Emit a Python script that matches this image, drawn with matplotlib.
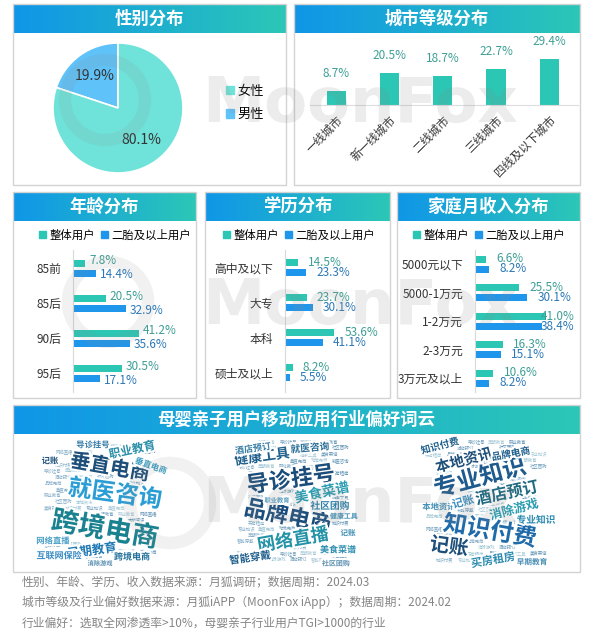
import numpy as np
import matplotlib.pyplot as plt
from matplotlib.colors import LinearSegmentedColormap
from matplotlib.patches import Rectangle, Patch, Circle
import matplotlib.patheffects as pe

plt.rcParams['font.family'] = ['Noto Sans CJK SC', 'DejaVu Sans']

W, H = 600, 630

# ---- 数据 ----
gender_labels = ['女性', '男性']
gender_values = [80.1, 19.9]

city_labels = ['一线城市', '新一线城市', '二线城市', '三线城市', '四线及以下城市']
city_values = [8.7, 20.5, 18.7, 22.7, 29.4]

series_names = ['整体用户', '二胎及以上用户']

age_labels = ['85前', '85后', '90后', '95后']
age_all = [7.8, 20.5, 41.2, 30.5]
age_second = [14.4, 32.9, 35.6, 17.1]

edu_labels = ['高中及以下', '大专', '本科', '硕士及以上']
edu_all = [14.5, 23.7, 53.6, 8.2]
edu_second = [23.3, 30.1, 41.1, 5.5]

income_labels = ['5000元以下', '5000-1万元', '1-2万元', '2-3万元', '3万元及以上']
income_all = [6.6, 25.5, 41.0, 16.3, 10.6]
income_second = [8.2, 30.1, 38.4, 15.1, 8.2]

cloud_left_words = ['垂直电商', '就医咨询', '跨境电商', '职业教育', '早期教育', '导诊挂号',
                    '垂直电商', '记账', '网络直播', '互联网保险', '跨境电商', '消除游戏']
cloud_mid_words = ['导诊挂号', '健康工具', '品牌电商', '网络直播', '美食菜谱', '社区团购',
                   '智能穿戴', '酒店预订', '就医咨询', '美食菜谱', '健康工具', '记账',
                   '社区团购', '职业教育']
cloud_right_words = ['专业知识', '本地资讯', '酒店预订', '消除游戏', '知识付费', '记账',
                     '买房租房', '早期教育', '专业知识', '品牌电商', '知识付费', '本地资讯', '记账']
filler_words = ['跨境电商', '就医咨询', '导诊挂号', '早期教育', '职业教育', '网络直播',
                '消除游戏', '酒店预订', '智能穿戴', '社区团购', '本地资讯', '买房租房',
                '品牌电商', '健康工具', '美食菜谱', '知识付费', '专业知识', '垂直电商']

notes = ['性别、年龄、学历、收入数据来源：月狐调研；数据周期：2024.03',
         '城市等级及行业偏好数据来源：月狐iAPP（MoonFox iApp）；数据周期：2024.02',
         '行业偏好：选取全网渗透率>10%，母婴亲子行业用户TGI>1000的行业']

# ---- 样式 ----
TEAL = '#2bc6b4'
BLUE = '#1e96ec'
TEAL_TXT = '#3e9f96'
BLUE_TXT = '#2b78b8'
HDR = LinearSegmentedColormap.from_list('hdr', ['#0f96e8', '#2cc7b7'])
grad = np.linspace(0, 1, 256).reshape(1, -1)

fig = plt.figure(figsize=(6, 6.3), dpi=100)


def rect(x, y, w, h):
    return [x / W, 1 - (y + h) / H, w / W, h / H]


def panel(x, y, w, h, title, fs=12.5):
    fig.patches.append(Rectangle((x / W, 1 - (y + h) / H), w / W, h / H,
                                 transform=fig.transFigure, fill=False,
                                 ec='#d3d3d3', lw=1))
    hax = fig.add_axes(rect(x, y, w, 29))
    hax.imshow(grad, aspect='auto', cmap=HDR, extent=(0, 1, 0, 1))
    hax.axis('off')
    hax.text(0.5, 0.5, title, color='white', fontsize=fs, fontweight='bold',
             ha='center', va='center', transform=hax.transAxes)


def legend2(x, y):
    hs = [Patch(color=TEAL), Patch(color=BLUE)]
    fig.legend(hs, series_names, loc='center left', bbox_to_anchor=(x / W, 1 - y / H),
               ncol=2, frameon=False, fontsize=8.2, handlelength=0.65, handleheight=0.65,
               handletextpad=0.25, columnspacing=0.55, borderpad=0, borderaxespad=0)


def hbar_panel(x_axis, right, cats, v_all, v_sec, first, step, px_pct, gap, cap, dy):
    top, bottom = 250, 392
    ax = fig.add_axes(rect(x_axis, top, right - x_axis, bottom - top))
    n = len(cats)
    idx = np.arange(n)
    ax.set_ylim(n - 1 + (bottom - (first + step * (n - 1))) / step, -(first - top) / step)
    ax.set_xlim(0, (right - x_axis) / px_pct)
    off, bh = 5 / step, 7 / step
    ax.barh(idx - off, v_all, height=bh, color=TEAL)
    ax.barh(idx + off, v_sec, height=bh, color=BLUE)
    for i in range(n):
        xa = min(v_all[i] + gap / px_pct, cap / px_pct)
        xb = min(v_sec[i] + gap / px_pct, cap / px_pct)
        ax.text(xa, i - off - dy / step, f'{v_all[i]}%', color=TEAL_TXT,
                fontsize=8.5, va='center', ha='left')
        ax.text(xb, i + off + dy / step, f'{v_sec[i]}%', color=BLUE_TXT,
                fontsize=8.5, va='center', ha='left')
    ax.set_yticks(idx)
    ax.set_yticklabels(cats, fontsize=8.5, color='#333333')
    ax.tick_params(axis='y', length=0, pad=8.5)
    ax.set_xticks([])
    for s in ['top', 'right', 'bottom']:
        ax.spines[s].set_visible(False)
    ax.spines['left'].set_color('#d9d9d9')
    ax.patch.set_alpha(0)


# ---- 性别分布 ----
panel(13, 4, 273, 181, '性别分布')
pax = fig.add_axes(rect(53, 43, 130, 130))
pax.pie(gender_values[::-1], colors=['#5fc2f8', '#6fe3d9'], startangle=90,
        counterclock=True, autopct='%.1f%%', pctdistance=0.6,
        wedgeprops=dict(edgecolor='white', linewidth=1.2),
        textprops=dict(fontsize=10, color='#333333'))
pax.set_xlim(-1, 1)
pax.set_ylim(-1, 1)
pax.set_aspect('equal')
fig.legend([Patch(color='#6fe3d9'), Patch(color='#5fc2f8')], gender_labels,
           loc='center left', bbox_to_anchor=(226 / W, 1 - 103 / H), frameon=False,
           fontsize=9.5, handlelength=0.6, handleheight=0.6, handletextpad=0.3,
           labelspacing=0.8, borderpad=0, borderaxespad=0)

# ---- 城市等级分布 ----
panel(294, 4, 286, 181, '城市等级分布')
cax = fig.add_axes(rect(310, 40, 268, 65))
bars = cax.bar(range(len(city_values)), city_values, width=0.36, color=TEAL)
cax.bar_label(bars, labels=[f'{v}%' for v in city_values], padding=8,
              color=TEAL_TXT, fontsize=8.5)
cax.set_xlim(-0.49, 4.54)
cax.set_ylim(0, 41.5)
cax.set_yticks([])
cax.set_xticks(range(len(city_labels)))
cax.set_xticklabels(city_labels, rotation=45, ha='right', rotation_mode='anchor',
                    fontsize=8.3, color='#333333')
cax.tick_params(axis='x', length=0, pad=6)
for s in ['top', 'right', 'left']:
    cax.spines[s].set_visible(False)
cax.spines['bottom'].set_color('#dddddd')
cax.patch.set_alpha(0)

# ---- 年龄 / 学历 / 收入 ----
panel(13, 192, 183, 206, '年龄分布')
legend2(39, 235)
hbar_panel(73, 190, age_labels, age_all, age_second, 268, 35, 1.6, 4, 150, 2)

panel(205, 192, 185, 206, '学历分布')
legend2(223, 235)
hbar_panel(285, 385, edu_labels, edu_all, edu_second, 267.5, 35, 0.92, 10, 80, 0)

panel(397, 192, 183, 206, '家庭月收入分布')
legend2(413, 235)
hbar_panel(475, 575, income_labels, income_all, income_second, 264, 28.5, 1.74, 10, 66, 0)

# ---- 词云 ----
panel(13, 405, 567, 167, '母婴亲子用户移动应用行业偏好词云', fs=12.5)
wc = fig.add_axes([0, 0, 1, 1], zorder=3)
wc.set_xlim(0, W)
wc.set_ylim(H, 0)
wc.axis('off')

left_layout = [(110, 467, 14.5, -10, '#1d4f7a'), (115, 494, 17, -8, '#2a9ed4'),
               (105, 530, 19.5, -10, '#1a8190'), (132, 450, 8.5, 12, '#2a8fa8'),
               (92, 551, 9, 8, '#1e78b4'), (93, 445, 6, 0, '#3a7ea6'),
               (151, 466, 6, -20, '#3f9fc0'), (50, 461, 6, 0, '#1d4f7a'),
               (53, 541, 6, 0, '#4aa0c8'), (59, 556, 6.5, 0, '#3a8cc4'),
               (132, 557, 6.5, 0, '#1f6f9a'), (100, 563, 4.5, 0, '#5a8fb0')]
mid_layout = [(291, 480, 16, 8, '#1b4d7a'), (262, 457, 10, 8, '#1f5f8c'),
              (288, 517, 16, -12, '#1a4d7c'), (293, 540, 13, 10, '#2493a8'),
              (322, 493, 10, 12, '#2a9db2'), (330, 506, 7, 0, '#2b7fa8'),
              (250, 558, 7.5, 8, '#1f5f8c'), (253, 449, 6.5, 8, '#3a7ea6'),
              (310, 448, 7, 5, '#2a6e98'), (338, 550, 6.5, 0, '#2e8fb0'),
              (344, 516, 5, 0, '#3f8fb5'), (348, 533, 5.5, 0, '#3f8fb5'),
              (336, 563, 5, 0, '#5a8fb0'), (277, 500, 4.5, 0, '#5a9fc0')]
right_layout = [(480, 478, 17, 15, '#1e5a8c'), (464, 460, 10.5, 15, '#1d4f7a'),
                (507, 493, 11.5, 12, '#1f6a80'), (514, 510, 9, 15, '#2a9db2'),
                (490, 531, 17, -10, '#1f6aa8'), (449, 547, 14, -8, '#1d4f7a'),
                (493, 560, 8, 10, '#2a8ab0'), (532, 562, 5.5, 0, '#4a8fb5'),
                (536, 520, 7, 0, '#2a8ab0'), (511, 454, 7, 10, '#1f5f8c'),
                (440, 446, 7, 15, '#1f5f8c'), (439, 507, 6, 0, '#3f8fb5'),
                (463, 502, 8, 15, '#3a8ec0')]

filler_cols = ['#86aec8', '#9cc6d4', '#6f9fbd', '#a9c9d8', '#5f93b5']
PX = 100 / 72


def covered(xx, yy, sized):
    for (x, y, fs, rot, _), n in sized:
        t = np.radians(rot)
        dx, dy = xx - x, yy - y
        u = dx * np.cos(t) - dy * np.sin(t)
        v = dx * np.sin(t) + dy * np.cos(t)
        if abs(u) < n * fs * PX / 2 + 3 and abs(v) < fs * PX / 2 - 1:
            return True
    return False


def cloud(words, layout, x0, y0, x1, y1):
    r = 22
    k = 0
    yy = y0 + 4
    row = 0
    sized = [(lay, len(w)) for w, lay in zip(words, layout)]
    while yy <= y1 - 3:
        xx = x0 + 11 + (row % 2) * 11
        while xx <= x1 - 11:
            cx = min(max(xx, x0 + r), x1 - r)
            cy = min(max(yy, y0 + r), y1 - r)
            if (xx - cx) ** 2 + (yy - cy) ** 2 <= (r - 4) ** 2 and not covered(xx, yy, sized):
                wc.text(xx, yy, filler_words[k % len(filler_words)], fontsize=3.2,
                        color=filler_cols[k % len(filler_cols)], ha='center', va='center')
            k += 1
            xx += 21
        yy += 6.2
        row += 1
    for w, (x, y, fs, rot, col) in zip(words, layout):
        wc.text(x, y, w, fontsize=fs, rotation=rot, color=col, fontweight='bold',
                ha='center', va='center', rotation_mode='anchor',
                path_effects=[pe.withStroke(linewidth=3, foreground='white')])


cloud(cloud_left_words, left_layout, 42, 442, 168, 562)
cloud(cloud_mid_words, mid_layout, 235, 438, 358, 568)
cloud(cloud_right_words, right_layout, 423, 438, 552, 567)

# ---- 水印 ----
wm = fig.add_axes([0, 0, 1, 1], zorder=10)
wm.set_xlim(0, W)
wm.set_ylim(H, 0)
wm.axis('off')
for (tx, ty), (lx, ly) in zip([(360, 105), (360, 307), (360, 505)],
                              [(105, 100), (108, 302), (170, 503)]):
    wm.text(tx, ty, 'MoonFox', fontsize=45, fontweight='bold', color='#8c8c8c',
            alpha=0.16, ha='center', va='center', family='DejaVu Sans')
    wm.add_patch(Circle((lx, ly), 40, fill=False, lw=9, ec='#8c8c8c', alpha=0.12))

# ---- 注释 ----
for i, t in enumerate(notes):
    fig.text(22 / W, 1 - (582 + 20.5 * i) / H, t, fontsize=8.5, color='#858585',
             va='center', ha='left')

fig.savefig('out.png', dpi=100, facecolor='white')
